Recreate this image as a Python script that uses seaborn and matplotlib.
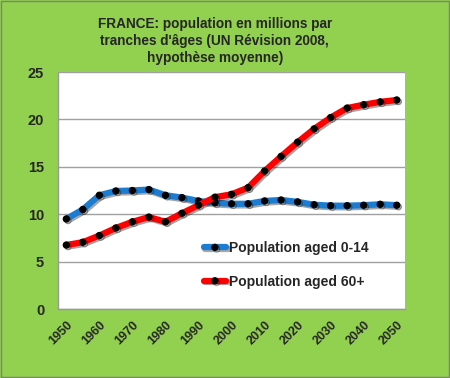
import numpy as np
import pandas as pd
import seaborn as sns
import matplotlib.pyplot as plt
import matplotlib.patheffects as pe
from matplotlib.patches import Rectangle
from matplotlib.ticker import MultipleLocator, FixedLocator

# data (millions)
years = list(range(1950, 2051, 5))
aged_0_14 = [9.5, 10.5, 12.0, 12.45, 12.5, 12.6, 12.0, 11.75, 11.4, 11.2, 11.1,
             11.1, 11.4, 11.5, 11.3, 11.0, 10.9, 10.9, 10.95, 11.05, 10.95]
aged_60 = [6.75, 7.05, 7.75, 8.55, 9.2, 9.7, 9.2, 10.1, 10.95, 11.8, 12.1,
           12.8, 14.55, 16.1, 17.6, 19.0, 20.2, 21.2, 21.55, 21.85, 22.05]
series_names = ["Population aged 0-14", "Population aged 60+"]
tick_years = list(range(1950, 2051, 10))

df = pd.DataFrame({"year": years, series_names[0]: aged_0_14, series_names[1]: aged_60})
df = df.melt(id_vars="year", var_name="serie", value_name="pop")

sns.set_style("white")
plt.rcParams["font.family"] = ["Liberation Sans", "DejaVu Sans"]
plt.rcParams["font.weight"] = "bold"

green = "#92D050"
fig = plt.figure(figsize=(4.5, 3.78), dpi=100, facecolor=green)
ax = fig.add_axes([0.129, 0.1825, 0.771, 0.627])
ax.set_facecolor("white")

shadow = [pe.SimpleLineShadow(offset=(1.2, -1.2), alpha=0.35), pe.Normal()]
sns.lineplot(data=df, x="year", y="pop", hue="serie",
             palette={series_names[0]: "#1C7CD0", series_names[1]: "#FF0000"},
             linewidth=4.5, marker="o", markersize=4.5, markerfacecolor="black",
             markeredgecolor="black", ax=ax, path_effects=shadow)

ax.set_xlim(1947.5, 2052.5)
ax.set_ylim(0, 25)
ax.yaxis.set_major_locator(MultipleLocator(5))
ax.xaxis.set_major_locator(FixedLocator(tick_years))
ax.xaxis.set_minor_locator(MultipleLocator(5, offset=2.5))
ax.set_xticklabels([str(y) for y in tick_years], rotation=45, ha="right",
                   rotation_mode="anchor", fontsize=9, fontweight="bold")
ax.tick_params(axis="x", which="major", length=0, pad=7)
ax.tick_params(axis="x", which="minor", length=4, color="#999999", direction="out")
ax.tick_params(axis="y", length=0, pad=10, labelsize=10.5)
for lab in ax.get_yticklabels():
    lab.set_fontweight("bold")
ax.grid(axis="y", color="#A0A0A0", linewidth=1)
ax.set_axisbelow(True)
for side in ["top", "right"]:
    ax.spines[side].set_visible(False)
for side in ["left", "bottom"]:
    ax.spines[side].set_color("#999999")
    ax.spines[side].set_linewidth(1)
ax.set_xlabel("")
ax.set_ylabel("")

leg = ax.legend(loc="center left", bbox_to_anchor=(0.40, 0.186), frameon=False,
                handlelength=1.6, handletextpad=0.2, labelspacing=1.4, numpoints=1,
                borderpad=0, prop={"size": 10, "weight": "bold"})

fig.text(0.477, 0.955, "FRANCE: population en millions par\ntranches d'âges (UN Révision 2008,\nhypothèse moyenne)",
         ha="center", va="top", fontsize=9.8, fontweight="bold", linespacing=1.25)

fig.patches.append(Rectangle((0.002, 0.003), 0.996, 0.994, transform=fig.transFigure,
                             fill=False, edgecolor="#808080", linewidth=1))

fig.savefig("out.png", dpi=100, facecolor=green)
